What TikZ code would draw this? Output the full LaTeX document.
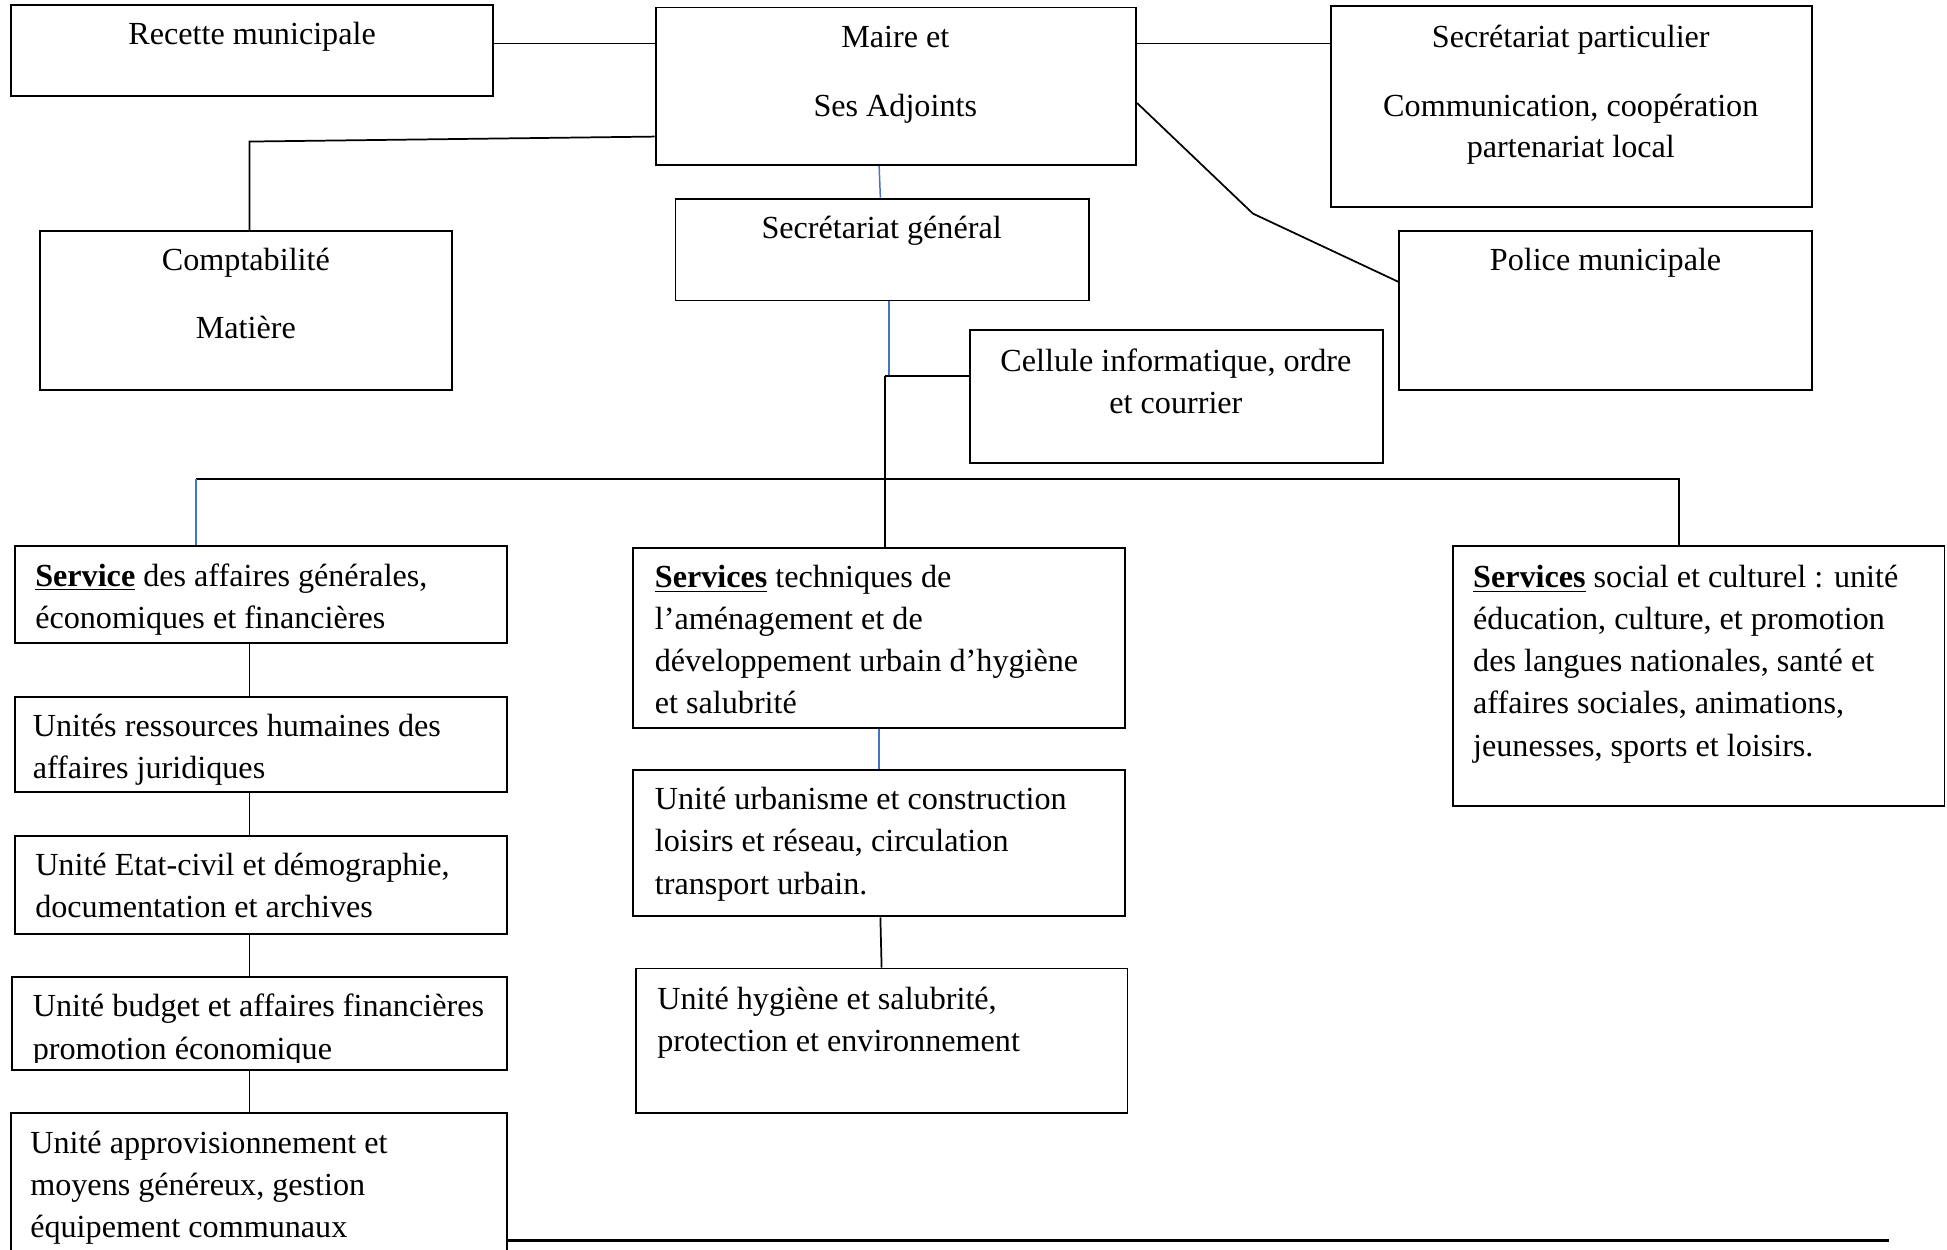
\documentclass[tikz,border=0pt]{standalone}
\usepackage{fontspec}
\setmainfont{Liberation Serif}
\usetikzlibrary{fit}
\definecolor{wblue}{RGB}{68,114,196}
\tikzset{
  x=0.5pt, y=-0.5pt,
  box/.style={draw=black, line width=0.75pt, inner sep=0pt, rectangle},
  conn/.style={draw=black, line width=0.7pt},
  bconn/.style={draw=wblue, line width=0.6pt},
  ctxt/.style={anchor=base, inner sep=0pt, font=\fontsize{12.95}{15}\selectfont},
  ltxt/.style={anchor=base west, inner sep=0pt, font=\fontsize{12.95}{15}\selectfont},
}
\newcommand{\bu}[1]{\textbf{\underline{#1}}}
\begin{document}
\begin{tikzpicture}
\useasboundingbox (0,0) rectangle (1568,1006);
% boxes
\node[box, fit={(9,4)(397,77)}] (rec) {};
\node[box, fit={(528,6)(915,133)}] (maire) {};
\node[box, fit={(1072,5)(1459,167)}] (spart) {};
\node[box, fit={(32,186)(364,314)}] (compta) {};
\node[box, fit={(544,160)(877,242)}] (sg) {};
\node[box, fit={(1127,186)(1459,314)}] (police) {};
\node[box, fit={(781,266)(1114,373)}] (cell) {};
\node[box, fit={(12,440)(408,518)}] (saff) {};
\node[box, fit={(510,441)(906,586)}] (stech) {};
\node[box, fit={(1170,440)(1566,649)}] (ssoc) {};
\node[box, fit={(12,561)(408,638)}] (urh) {};
\node[box, fit={(12,673)(408,752)}] (uetat) {};
\node[box, fit={(10,787)(408,862)}] (ubud) {};
\node[box, fit={(510,620)(906,738)}] (uurb) {};
\node[box, fit={(512,780)(908,896)}] (uhyg) {};
% last box: bottom edge is outside the picture
\coordinate (appNW) at (9,896);
\coordinate (appNE) at (408,896);
\draw[line width=0.75pt] (9,1010) -- (appNW) -- (appNE) -- (408,1010);
\coordinate (appN) at (201,896);

% texts
\node[ctxt] (t1) at (203,36) {Recette municipale};
\node[ctxt] (t2) at (721,38) {Maire et};
\node[ctxt] (t3) at (721,94) {Ses Adjoints};
\node[ctxt] (t4) at (1265,38) {Secrétariat particulier};
\node[ctxt] (t5) at (1265,94) {Communication, coopération};
\node[ctxt] (t6) at (1265,127) {partenariat local};
\node[ctxt] (t7) at (198,218) {Comptabilité};
\node[ctxt] (t8) at (198,273) {Matière};
\node[ctxt] (t9) at (710,192) {Secrétariat général};
\node[ctxt] (t10) at (1293,218) {Police municipale};
\node[ctxt] (t11) at (947,299) {Cellule informatique, ordre};
\node[ctxt] (t12) at (947,333) {et courrier};

\node[ltxt] (s1) at (28,472) {\bu{Service} des affaires générales,};
\node[ltxt] (s2) at (28,506) {économiques et financières};

\node[ltxt] (s3) at (527,473) {\bu{Services} techniques de};
\node[ltxt] (s4) at (527,507) {l’aménagement et de};
\node[ltxt] (s5) at (527,541) {développement urbain d’hygiène};
\node[ltxt] (s6) at (527,575) {et salubrité};

\node[ltxt] (s7) at (1186,473) {\bu{Services} social et culturel : unité};
\node[ltxt] (s8) at (1186,507) {éducation, culture, et promotion};
\node[ltxt] (s9) at (1186,541) {des langues nationales, santé et};
\node[ltxt] (s10) at (1186,575) {affaires sociales, animations,};
\node[ltxt] (s11) at (1186,609) {jeunesses, sports et loisirs.};

\node[ltxt] (u1) at (26,593) {Unités ressources humaines des};
\node[ltxt] (u2) at (26,627) {affaires juridiques};
\node[ltxt] (u3) at (28,705) {Unité Etat-civil et démographie,};
\node[ltxt] (u4) at (28,739) {documentation et archives};
\node[ltxt] (u5) at (26,819) {Unité budget et affaires financières};
\begin{scope}
\clip (10,787) rectangle (408,855.5);
\node[ltxt] (u6) at (26,853) {promotion économique};
\end{scope}
\node[ltxt] (u7) at (24,929) {Unité approvisionnement et};
\node[ltxt] (u8) at (24,963) {moyens généreux, gestion};
\node[ltxt] (u9) at (24,997) {équipement communaux};

\node[ltxt] (v1) at (527,652) {Unité urbanisme et construction};
\node[ltxt] (v2) at (527,686) {loisirs et réseau, circulation};
\node[ltxt] (v3) at (527,720) {transport urbain.};
\node[ltxt] (v4) at (529,813) {Unité hygiène et salubrité,};
\node[ltxt] (v5) at (529,847) {protection et environnement};

% connectors
\draw[conn] (rec.east |- 0,35) -- (maire.west |- 0,35);
\draw[conn] (maire.west |- 0,110) -- (201,114) -- (compta.north -| 201,0);
\draw[conn] (maire.east |- 0,35) -- (spart.west |- 0,35);
\draw[conn] (maire.east |- 0,83) -- (1009,172) -- (police.west |- 0,227);
\draw[bconn] (maire.south -| 708,0) -- (sg.north -| 709,0);
\coordinate (jn) at (716,303);
\draw[bconn] (sg.south -| 716,0) -- (jn);
\coordinate (jn2) at (713,303);
\draw[conn] (jn2) -- (cell.west |- 0,303);
\draw[conn] (jn2) -- (stech.north -| 713,0);
\coordinate (hl) at (158,386);
\coordinate (hr) at (1352,386);
\draw[conn] (hl) -- (hr) -- (ssoc.north -| 1352,0);
\draw[bconn] (hl) -- (saff.north -| 158,0);
\draw[conn] (saff.south -| 201,0) -- (urh.north -| 201,0);
\draw[conn] (urh.south -| 201,0) -- (uetat.north -| 201,0);
\draw[conn] (uetat.south -| 201,0) -- (ubud.north -| 201,0);
\draw[conn] (ubud.south -| 201,0) -- (appN);
\draw[bconn] (stech.south -| 708,0) -- (uurb.north -| 708,0);
\draw[conn] (uurb.south -| 709,0) -- (uhyg.north -| 710,0);
\coordinate (bl) at (408,999);
\coordinate (br) at (1521,999);
\draw[line width=1.1pt] (bl) -- (br);
\end{tikzpicture}
\end{document}
